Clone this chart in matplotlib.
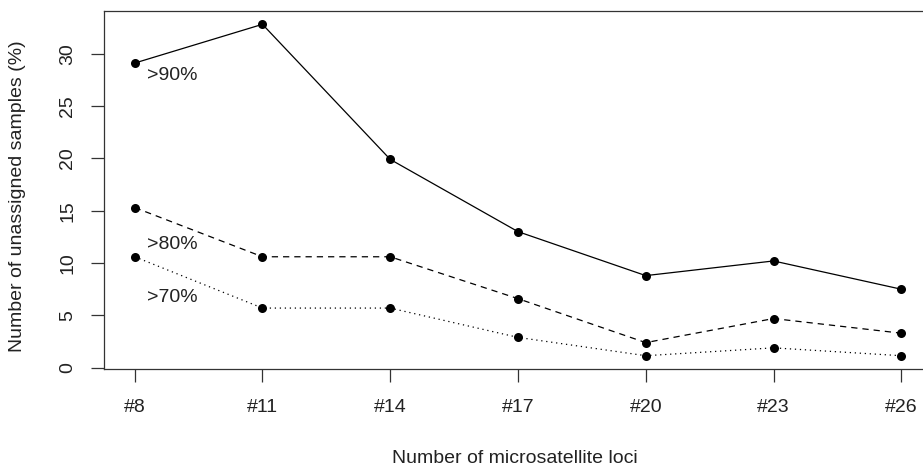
import numpy as np
import matplotlib.pyplot as plt

plt.rcParams['font.family'] = ['Liberation Sans', 'DejaVu Sans']

loci = ['#8', '#11', '#14', '#17', '#20', '#23', '#26']
over90 = [29.1, 32.8, 19.9, 13.0, 8.8, 10.2, 7.5]
over80 = [15.3, 10.6, 10.6, 6.6, 2.4, 4.7, 3.3]
over70 = [10.6, 5.7, 5.7, 2.9, 1.15, 1.9, 1.15]
labels = ['>90%', '>80%', '>70%']
label_y = [27.9, 11.8, 6.7]

x = np.arange(len(loci))

fig = plt.figure(figsize=(9.23, 4.69), dpi=100)
ax = fig.add_axes([0.1127, 0.2132, 0.897, 0.7633])

styles = ['-', (0, (5, 4)), (0, (1, 3))]
for ys, ls in zip([over90, over80, over70], styles):
    ax.plot(x, ys, color='black', lw=0.9, linestyle=ls,
            marker='o', markersize=6.5, markeredgewidth=0, clip_on=False)

for lab, ly in zip(labels, label_y):
    ax.text(0.1, ly, lab, fontsize=14, color='#222222', va='center', ha='left')

ax.set_xlim(-0.24, 6.24)
ax.set_ylim(-0.12, 34.07)
ax.set_xticks(x)
ax.set_xticklabels(loci)
ax.set_yticks([0, 5, 10, 15, 20, 25, 30])
ax.set_yticklabels(['0', '5', '10', '15', '20', '25', '30'], rotation=90, va='center')

ax.tick_params(axis='both', length=9.4, width=0.9, color='#333333',
               labelsize=14, labelcolor='#222222')
ax.tick_params(axis='x', pad=12)
ax.tick_params(axis='y', pad=10.5)

for s in ax.spines.values():
    s.set_linewidth(0.9)
    s.set_color('#333333')

fig.text(0.558, 0.023, 'Number of microsatellite loci', fontsize=14,
         color='#222222', ha='center', va='center')
fig.text(0.0195, 0.582, 'Number of unassigned samples (%)', fontsize=14,
         color='#222222', ha='center', va='center', rotation=90)

fig.savefig('out.png', dpi=100)
